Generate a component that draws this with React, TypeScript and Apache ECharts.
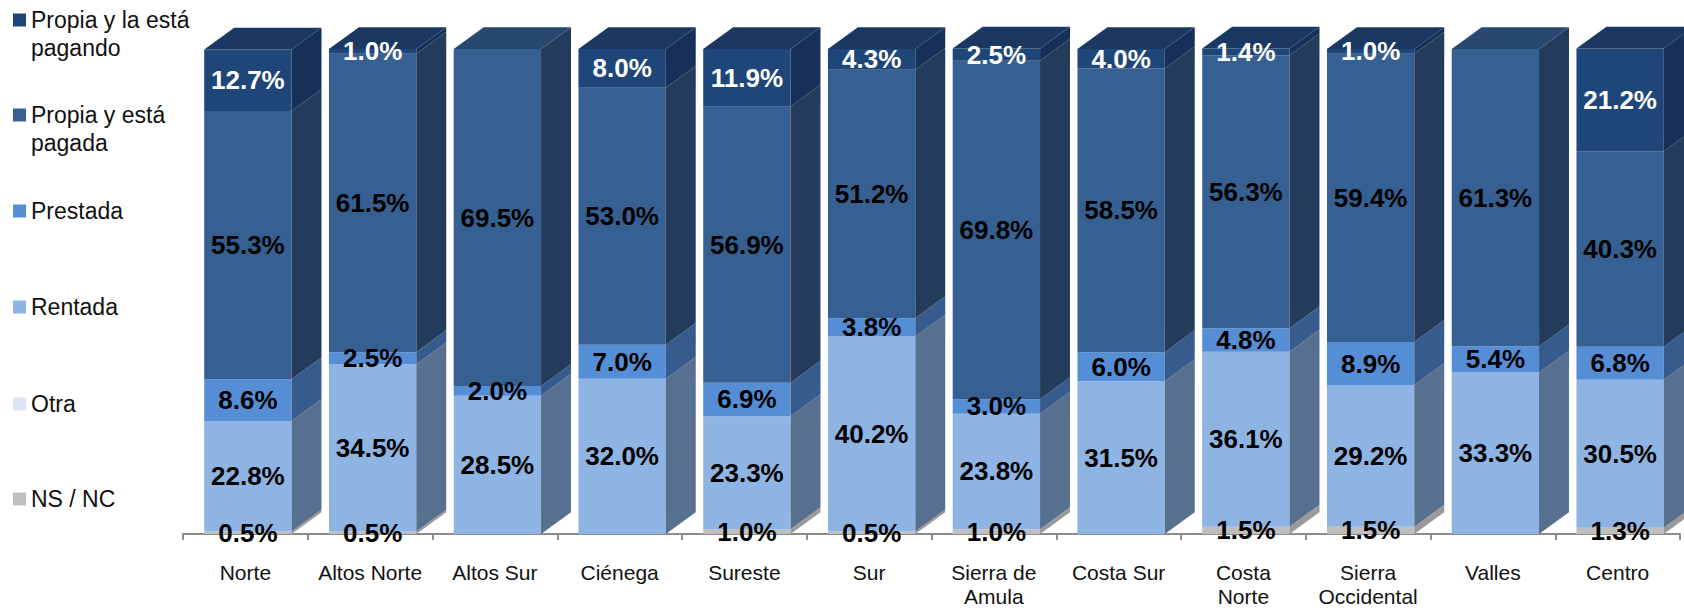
import React, { useEffect, useRef } from 'react';
import * as echarts from 'echarts';

const categories = ['Norte', 'Altos Norte', 'Altos Sur', 'Ciénega', 'Sureste', 'Sur', 'Sierra de\nAmula', 'Costa Sur', 'Costa\nNorte', 'Sierra\nOccidental', 'Valles', 'Centro'];

// stack order: bottom -> top
const nsnc = [0.5, 0.5, 0, 0, 1.0, 0.5, 1.0, 0, 1.5, 1.5, 0, 1.3];
const otra = [0, 0, 0, 0, 0, 0, 0, 0, 0, 0, 0, 0];
const rentada = [22.8, 34.5, 28.5, 32.0, 23.3, 40.2, 23.8, 31.5, 36.1, 29.2, 33.3, 30.5];
const prestada = [8.6, 2.5, 2.0, 7.0, 6.9, 3.8, 3.0, 6.0, 4.8, 8.9, 5.4, 6.8];
const pagada = [55.3, 61.5, 69.5, 53.0, 56.9, 51.2, 69.8, 58.5, 56.3, 59.4, 61.3, 40.3];
const pagando = [12.7, 1.0, 0, 8.0, 11.9, 4.3, 2.5, 4.0, 1.4, 1.0, 0, 21.2];

const seriesNames = ['NS / NC', 'Otra', 'Rentada', 'Prestada', 'Propia y está pagada', 'Propia y la está pagando'];
const seriesValues = [nsnc, otra, rentada, prestada, pagada, pagando];
const frontColors = ['#bfbfbf', '#dbe5f1', '#8eb4e3', '#558ed5', '#376092', '#1f4679'];
const sideColors = ['#9a9a9a', '#a9b4c2', '#58708f', '#365b8c', '#233c5c', '#16305a'];
const topColors = ['#a8a8a8', '#c0cad6', '#6f8db3', '#4677b5', '#284870', '#1a3862'];
const labelColors = ['#000', '#000', '#000', '#000', '#000', '#fff'];

const legendOrder = ['Propia y la está pagando', 'Propia y está pagada', 'Prestada', 'Rentada', 'Otra', 'NS / NC'];
const legendLines = [['Propia y la está', 'pagando'], ['Propia y está', 'pagada'], ['Prestada'], ['Rentada'], ['Otra'], ['NS / NC']];
const legendCenters = [20, 115, 211, 307, 404, 499];

const FONT = 'Liberation Sans, Arial, sans-serif';

export default function App() {
  const ref = useRef<HTMLDivElement>(null);
  useEffect(() => {
    if (!ref.current) return;
    const chart = echarts.init(ref.current, undefined, { renderer: 'svg' });

    // top-most non-zero series per category
    const topIdx = categories.map((_, i) => {
      let t = -1;
      seriesValues.forEach((arr, s) => { if (arr[i] > 0) t = s; });
      return t;
    });

    const series = seriesValues.map((arr, s) => {
      const data = arr.map((v, i) => {
        let base = 0;
        for (let k = 0; k < s; k++) base += seriesValues[k][i];
        return [i, base, v, topIdx[i] === s ? 1 : 0];
      });
      return {
        type: 'custom',
        name: seriesNames[s],
        itemStyle: { color: frontColors[s] },
        encode: { x: 0, y: 1 },
        data,
        renderItem: (params: any, api: any) => {
          const i = api.value(0);
          const base = api.value(1);
          const v = api.value(2);
          const isTop = api.value(3);
          if (!(v > 0)) return null;
          const bandW = api.size([1, 0])[0];
          const c0 = api.coord([i, base]);
          const c1 = api.coord([i, base + v]);
          const left = c0[0] - bandW * 0.33;
          const w = bandW * 0.70;
          const right = left + w;
          const dx = bandW * 0.24;
          const dy = dx * 0.73;
          const yb = c0[1];
          const yt = c1[1];
          const children: any[] = [
            { type: 'rect', shape: { x: left, y: yt, width: w, height: yb - yt }, style: { fill: frontColors[s] } },
            { type: 'polygon', shape: { points: [[right, yt], [right + dx, yt - dy], [right + dx, yb - dy], [right, yb]] }, style: { fill: sideColors[s] } },
          ];
          if (isTop) {
            children.push({ type: 'polygon', shape: { points: [[left, yt], [left + dx, yt - dy], [right + dx, yt - dy], [right, yt]] }, style: { fill: topColors[s] } });
          }
          children.push({
            type: 'text', z2: 100,
            style: {
              text: v.toFixed(1) + '%', x: left + w / 2, y: (yt + yb) / 2,
              align: 'center', verticalAlign: 'middle',
              fontSize: 26, fontWeight: 'bold', fontFamily: FONT, fill: labelColors[s],
            },
          });
          return { type: 'group', children };
        },
      };
    });

    const legends = legendOrder.map((name, k) => {
      const lines = legendLines[k];
      const twoLine = lines.length > 1;
      // a blank first line keeps the marker level with the first real line
      const text = twoLine ? ' \n' + lines.join('\n') : lines[0];
      return {
        data: [{ name, icon: 'rect' }],
        left: 13,
        top: twoLine ? legendCenters[k] - 42 : legendCenters[k] - 14,
        padding: 0,
        itemWidth: 13,
        itemHeight: 13,
        selectedMode: false,
        formatter: () => text,
        textStyle: {
          fontSize: 23, fontFamily: FONT, color: '#111', lineHeight: 28,
          backgroundColor: 'rgba(0,0,0,0)',
        },
      };
    });

    chart.setOption({
      animation: false,
      backgroundColor: '#fff',
      legend: legends,
      grid: { left: 183, right: 4, top: 49, bottom: 73, containLabel: false },
      xAxis: {
        type: 'category',
        data: categories,
        offset: 2,
        axisLine: { lineStyle: { color: '#8c8c8c', width: 2 } },
        axisTick: { show: true, length: 6, lineStyle: { color: '#8c8c8c', width: 2 } },
        axisLabel: { fontSize: 21, fontFamily: FONT, color: '#111', margin: 24, lineHeight: 24, interval: 0 },
      },
      yAxis: { type: 'value', min: 0, max: 100, show: false },
      series,
    });
    return () => chart.dispose();
  }, []);
  return <div ref={ref} style={{ position: 'fixed', left: 0, top: 0, width: 1684, height: 608 }} />;
}
